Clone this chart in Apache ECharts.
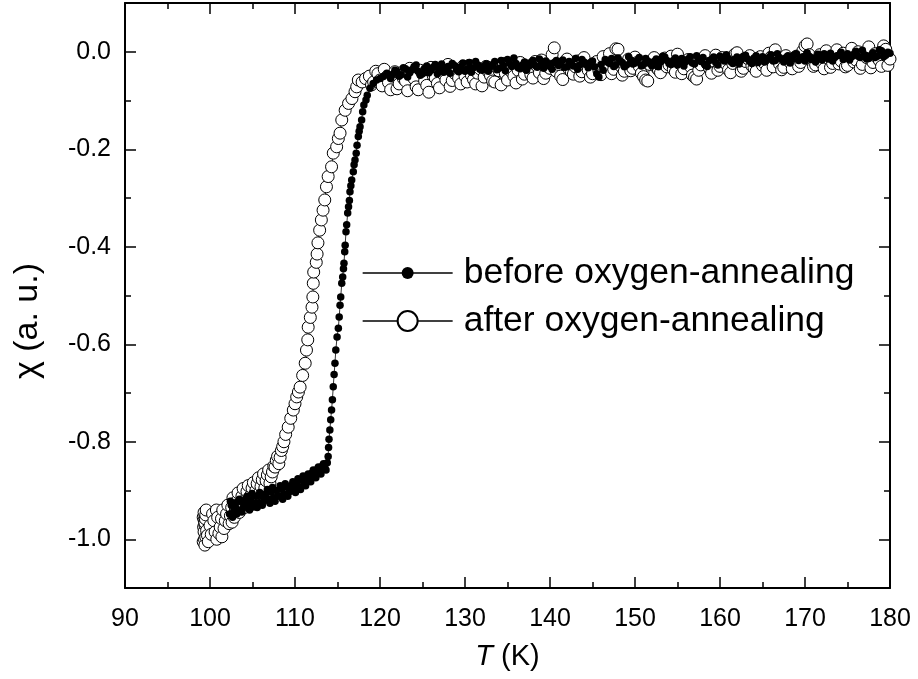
<!DOCTYPE html>
<html>
<head>
<meta charset="utf-8">
<script src="https://cdn.jsdelivr.net/npm/echarts@6/dist/echarts.min.js"></script>
<style>
html,body{margin:0;padding:0;background:#fff;}
#chart{width:918px;height:679px;}
</style>
</head>
<body>
<div id="chart"></div>
<script>
// ---- data: [T (K), chi (a.u.)] ----
const seriesNames = ['before oxygen-annealing', 'after oxygen-annealing'];
const xTicks = [90, 100, 110, 120, 130, 140, 150, 160, 170, 180];
const yMajorTicks = [-1.0, -0.8, -0.6, -0.4, -0.2, 0.0];
const yMinorTicks = [-0.9, -0.7, -0.5, -0.3, -0.1];

const beforeLow = [
  [102.3,-0.948],[102.5,-0.930],[102.8,-0.942],[103.0,-0.925],[103.3,-0.940],[103.6,-0.922],[103.9,-0.936],
  [104.2,-0.917],[104.5,-0.931],[104.8,-0.920],[105.1,-0.934],[105.4,-0.912],[105.7,-0.925],[106.0,-0.910],
  [106.3,-0.922],[106.6,-0.906],[106.9,-0.918],[107.2,-0.903],[107.5,-0.915],[107.8,-0.900],[108.1,-0.911],
  [108.4,-0.897],[108.7,-0.907],[109.0,-0.893],[109.3,-0.903],[109.6,-0.889],[109.9,-0.898],[110.2,-0.884],
  [110.5,-0.893],[110.8,-0.879],[111.1,-0.886],[111.4,-0.872],[111.7,-0.879],[112.0,-0.864],[112.3,-0.870],
  [112.6,-0.857],[112.9,-0.862],[113.2,-0.850],[113.5,-0.853],[113.8,-0.843]
];
const beforeLow2 = [
  [102.4,-0.922],[102.65,-0.955],[102.9,-0.934],[103.15,-0.948],[103.45,-0.918],[103.75,-0.944],[104.05,-0.928],
  [104.35,-0.912],[104.65,-0.940],[104.95,-0.906],[105.25,-0.926],[105.55,-0.935],[105.85,-0.904],[106.15,-0.930],
  [106.45,-0.915],[106.75,-0.898],[107.05,-0.926],[107.35,-0.894],[107.65,-0.922],[107.95,-0.912],[108.25,-0.890],
  [108.55,-0.918],[108.85,-0.886],[109.15,-0.912],[109.45,-0.900],[109.75,-0.882],[110.05,-0.904],[110.35,-0.876],
  [110.65,-0.898],[110.95,-0.870],[111.25,-0.890],[111.55,-0.866],[111.85,-0.882],[112.15,-0.858],[112.45,-0.874],
  [112.75,-0.852],[113.05,-0.866],[113.35,-0.845],[113.65,-0.858]
];
const beforeRise = [
  [113.9,-0.830],[113.95,-0.812],[114.0,-0.795],[114.1,-0.776],[114.2,-0.755],[114.3,-0.735],[114.4,-0.714],
  [114.5,-0.687],[114.6,-0.662],[114.7,-0.639],[114.8,-0.612],[114.95,-0.585],[115.1,-0.567],[115.2,-0.544],
  [115.3,-0.520],[115.38,-0.503],[115.5,-0.475],[115.61,-0.462],[115.7,-0.445],[115.76,-0.434],[115.85,-0.410],
  [115.9,-0.397],[116.0,-0.369],[116.08,-0.355],[116.2,-0.331],[116.3,-0.318],[116.4,-0.305],[116.47,-0.287],
  [116.57,-0.275],[116.67,-0.263],[116.86,-0.246],[116.95,-0.232],[117.06,-0.222],[117.2,-0.208],[117.3,-0.192],
  [117.45,-0.174],[117.55,-0.163],[117.65,-0.154],[117.84,-0.140],[117.96,-0.123],[118.1,-0.109],[118.35,-0.099],
  [118.5,-0.089],[118.82,-0.075],[119.2,-0.065],[119.6,-0.058],[120.0,-0.055],[120.4,-0.051],[120.8,-0.044],[121.2,-0.048]
];
const beforePlateau = [
  [121.5,-0.046],[122.0,-0.040],[122.5,-0.047],[123.0,-0.035],[123.5,-0.043],[124.0,-0.031],[124.5,-0.040],
  [125.0,-0.045],[125.5,-0.029],[126.0,-0.038],[126.5,-0.026],[127.0,-0.036],[127.5,-0.042],[128.0,-0.030],
  [128.5,-0.024],[129.0,-0.037],[129.5,-0.031],[130.0,-0.040],[130.5,-0.022],[131.0,-0.033],[131.5,-0.027],
  [132.0,-0.038],[132.5,-0.025],[133.0,-0.031],[133.5,-0.020],[134.0,-0.034],[134.5,-0.028],[135.0,-0.016],
  [135.5,-0.030],[136.0,-0.024],[136.5,-0.035],[137.0,-0.021],[137.5,-0.029],[138.0,-0.018],[138.5,-0.032],
  [139.0,-0.025],[139.5,-0.019],[140.0,-0.030],[140.5,-0.022],[141.0,-0.028],[141.5,-0.017],[142.0,-0.031],
  [142.5,-0.024],[143.0,-0.014],[143.5,-0.027],[144.0,-0.021],[144.5,-0.033],[145.0,-0.019],[145.5,-0.045],
  [146.0,-0.026],[146.5,-0.016],[147.0,-0.024],[147.5,-0.030],[148.0,-0.013],[148.5,-0.022],[149.0,-0.027],
  [149.5,-0.017],[150.0,-0.023],[150.5,-0.012],[151.0,-0.026],[151.5,-0.019],[152.0,-0.029],[152.5,-0.015],
  [153.0,-0.021],[153.5,-0.011],[154.0,-0.024],[154.5,-0.018],[155.0,-0.027],[155.5,-0.014],[156.0,-0.020],
  [156.5,-0.010],[157.0,-0.025],[157.5,-0.017],[158.0,-0.012],[158.5,-0.030],[159.0,-0.016],[159.5,-0.022],
  [160.0,-0.009],[160.5,-0.019],[161.0,-0.014],[161.5,-0.024],[162.0,-0.011],[162.5,-0.017],[163.0,-0.007],
  [163.5,-0.020],[164.0,-0.013],[164.5,-0.022],[165.0,-0.010],[165.5,-0.016],[166.0,-0.006],[166.5,-0.018],
  [167.0,-0.012],[167.5,-0.021],[168.0,-0.008],[168.5,-0.015],[169.0,-0.004],[169.5,-0.013],[170.0,-0.019],
  [170.5,-0.009],[171.0,-0.014],[171.5,-0.005],[172.0,-0.017],[172.5,-0.010],[173.0,-0.003],[173.5,-0.012],
  [174.0,-0.007],[174.5,-0.016],[175.0,-0.004],[175.5,-0.010],[176.0,0.001],[176.5,-0.012],[177.0,-0.006],
  [177.5,-0.014],[178.0,-0.002],[178.5,-0.009],[179.0,0.002],[179.5,-0.007],[180.0,-0.003]
];
const beforePlateau2 = [
  [121.25,-0.055],[121.75,-0.038],[122.25,-0.050],[122.75,-0.033],[123.25,-0.052],[123.75,-0.037],[124.25,-0.027],
  [124.75,-0.048],[125.25,-0.034],[125.75,-0.043],[126.25,-0.032],[126.75,-0.045],[127.25,-0.025],[127.75,-0.033],
  [128.25,-0.044],[128.75,-0.028],[129.25,-0.041],[129.75,-0.023],[130.25,-0.035],[130.75,-0.042],[131.25,-0.020],
  [131.75,-0.036],[132.25,-0.029],[132.75,-0.040],[133.25,-0.026],[133.75,-0.037],[134.25,-0.018],[134.75,-0.039],
  [135.25,-0.024],[135.75,-0.013],[136.25,-0.033],[136.75,-0.027],[137.25,-0.038],[137.75,-0.022],[138.25,-0.028],
  [138.75,-0.015],[139.25,-0.034],[139.75,-0.024],[140.25,-0.036],[140.75,-0.018],[141.25,-0.025],[141.75,-0.032],
  [142.25,-0.020],[142.75,-0.029],[143.25,-0.036],[143.75,-0.016],[144.25,-0.026],[144.75,-0.022],[145.25,-0.031],
  [145.75,-0.052],[146.25,-0.038],[146.75,-0.021],[147.25,-0.014],[147.75,-0.027],[148.25,-0.019],[148.75,-0.031],
  [149.25,-0.010],[149.75,-0.025],[150.25,-0.018],[150.75,-0.029],[151.25,-0.014],[151.75,-0.024],[152.25,-0.020],
  [152.75,-0.031],[153.25,-0.009],[153.75,-0.018],[154.25,-0.026],[154.75,-0.013],[155.25,-0.021],[155.75,-0.029],
  [156.25,-0.015],[156.75,-0.023],[157.25,-0.008],[157.75,-0.020],[158.25,-0.026],[158.75,-0.018],[159.25,-0.011],
  [159.75,-0.027],[160.25,-0.015],[160.75,-0.006],[161.25,-0.020],[161.75,-0.016],[162.25,-0.025],[162.75,-0.009],
  [163.25,-0.015],[163.75,-0.024],[164.25,-0.008],[164.75,-0.017],[165.25,-0.021],[165.75,-0.012],[166.25,-0.019],
  [166.75,-0.004],[167.25,-0.016],[167.75,-0.013],[168.25,-0.023],[168.75,-0.006],[169.25,-0.018],[169.75,-0.010],
  [170.25,-0.002],[170.75,-0.016],[171.25,-0.021],[171.75,-0.011],[172.25,-0.004],[172.75,-0.015],[173.25,-0.019],
  [173.75,-0.008],[174.25,-0.001],[174.75,-0.011],[175.25,-0.017],[175.75,-0.005],[176.25,-0.009],[176.75,0.003],
  [177.25,-0.015],[177.75,-0.008],[178.25,-0.012],[178.75,0.004],[179.25,-0.010],[179.75,-0.001]
];

const afterLow = [
  [99.2,-0.955],[99.3,-0.985],[99.2,-1.005],[99.4,-0.970],[99.3,-0.945],[99.5,-0.995],[99.3,-0.960],
  [99.4,-1.012],[99.5,-0.950],[99.6,-0.982],[99.4,-0.966],[99.7,-0.992],[100.0,-0.972],[100.3,-0.948],
  [100.6,-0.985],[100.8,-1.000],[100.9,-0.955],[101.2,-0.975],[101.4,-0.995],[101.5,-0.940],[101.8,-0.962],
  [102.1,-0.930],[102.4,-0.952],[102.6,-0.965],[102.7,-0.915],[103.0,-0.938],[103.3,-0.905],[103.6,-0.928],
  [103.9,-0.896],[104.2,-0.918],[104.5,-0.890],[104.8,-0.910],[105.1,-0.884],[105.4,-0.900],[105.7,-0.874],
  [106.0,-0.892],[106.3,-0.866],[106.6,-0.880],[106.9,-0.858],[107.2,-0.872],[107.5,-0.850],[107.8,-0.838],
  [108.1,-0.845],[108.4,-0.818]
];
const afterLow2 = [
  [99.25,-0.975],[99.35,-1.000],[99.45,-0.958],[99.55,-0.940],[99.8,-1.005],[100.15,-0.990],[100.45,-0.962],
  [100.75,-0.940],[101.05,-0.988],[101.35,-0.958],[101.65,-0.978],[101.95,-0.948],[102.25,-0.968],[102.55,-0.935],
  [102.85,-0.955],[103.15,-0.922],[103.45,-0.945],[103.75,-0.912],[104.05,-0.935],[104.35,-0.902],[104.65,-0.925],
  [104.95,-0.895],[105.25,-0.912],[105.55,-0.886],[105.85,-0.905],[106.15,-0.878],[106.45,-0.895],[106.75,-0.868],
  [107.05,-0.885],[107.35,-0.862],[107.65,-0.852],[107.95,-0.830],[108.25,-0.832],[108.55,-0.810]
];
const afterRise = [
  [108.7,-0.800],[108.9,-0.785],[109.2,-0.770],[109.5,-0.752],[109.8,-0.735],[110.0,-0.722],[110.2,-0.708],
  [110.4,-0.698],[110.6,-0.688],[110.9,-0.664],[111.2,-0.639],[111.35,-0.612],[111.5,-0.591],[111.55,-0.565],
  [111.8,-0.545],[112.0,-0.524],[112.1,-0.503],[112.15,-0.475],[112.2,-0.452],[112.5,-0.432],[112.6,-0.415],
  [112.7,-0.392],[112.9,-0.366],[113.1,-0.345],[113.3,-0.325],[113.5,-0.304],[113.7,-0.277],[113.9,-0.256],
  [114.3,-0.236],[114.5,-0.208],[114.9,-0.195],[115.1,-0.178],[115.3,-0.167],[115.5,-0.140],[115.9,-0.120],
  [116.3,-0.106],[116.7,-0.096],[117.06,-0.082],[117.26,-0.072],[117.45,-0.058],[117.9,-0.062],[118.3,-0.055]
];
const afterPlateau = [
  [118.75,-0.050],[119.25,-0.062],[119.75,-0.045],[120.25,-0.070],[120.75,-0.052],[121.25,-0.078],[121.75,-0.041],
  [122.25,-0.066],[122.75,-0.055],[123.25,-0.080],[123.75,-0.047],[124.25,-0.072],[124.75,-0.038],[125.25,-0.060],
  [125.75,-0.083],[126.25,-0.049],[126.75,-0.065],[127.25,-0.036],[127.75,-0.058],[128.25,-0.071],[128.75,-0.044],
  [129.25,-0.054],[129.75,-0.030],[130.25,-0.062],[130.75,-0.048],[131.25,-0.066],[131.75,-0.035],[132.25,-0.052],
  [132.75,-0.041],[133.25,-0.060],[133.75,-0.032],[134.25,-0.068],[134.75,-0.045],[135.25,-0.027],[135.75,-0.050],
  [136.25,-0.038],[136.75,-0.056],[137.25,-0.029],[137.75,-0.047],[138.25,-0.020],[138.75,-0.043],[139.25,-0.055],
  [139.75,-0.031],[140.25,-0.006],[140.75,-0.040],[141.25,-0.050],[141.75,-0.025],[142.25,-0.036],[142.75,-0.046],
  [143.25,-0.019],[143.75,-0.041],[144.25,-0.030],[144.75,-0.052],[145.25,-0.024],[145.75,-0.038],[146.25,-0.010],
  [146.75,-0.033],[147.25,-0.045],[147.75,0.006],[148.25,-0.028],[148.75,-0.040],[149.25,-0.015],[149.75,-0.034],
  [150.25,-0.022],[150.75,-0.044],[151.25,-0.058],[151.75,-0.026],[152.25,-0.012],[152.75,-0.037],[153.25,-0.020],
  [153.75,-0.031],[154.25,-0.009],[154.75,-0.042],[155.25,-0.024],[155.75,-0.035],[156.25,-0.016],[156.75,-0.048],
  [157.25,-0.056],[157.75,-0.027],[158.25,-0.008],[158.75,-0.033],[159.25,-0.019],[159.75,-0.038],[160.25,-0.012],
  [160.75,-0.026],[161.25,-0.043],[161.75,-0.005],[162.25,-0.022],[162.75,-0.034],[163.25,-0.014],[163.75,-0.029],
  [164.25,-0.040],[164.75,-0.010],[165.25,-0.024],[165.75,-0.003],[166.25,-0.031],[166.75,-0.017],[167.25,-0.037],
  [167.75,-0.008],[168.25,-0.022],[168.75,-0.013],[169.25,-0.030],[169.75,0.002],[170.25,0.016],[170.75,-0.018],
  [171.25,-0.027],[171.75,-0.006],[172.25,-0.035],[172.75,-0.014],[173.25,-0.024],[173.75,0.004],[174.25,-0.019],
  [174.75,-0.031],[175.25,-0.009],[175.75,-0.021],[176.25,0.000],[176.75,-0.026],[177.25,-0.012],[177.75,-0.033],
  [178.25,-0.004],[178.75,-0.018],[179.25,0.012],[179.75,-0.028]
];
const afterPlateau2 = [
  [119.0,-0.068],[119.5,-0.040],[120.0,-0.058],[120.5,-0.036],[121.0,-0.063],[121.5,-0.050],[122.0,-0.076],
  [122.5,-0.043],[123.0,-0.060],[123.5,-0.034],[124.0,-0.055],[124.5,-0.078],[125.0,-0.045],[125.5,-0.069],
  [126.0,-0.032],[126.5,-0.054],[127.0,-0.074],[127.5,-0.047],[128.0,-0.026],[128.5,-0.059],[129.0,-0.040],
  [129.5,-0.066],[130.0,-0.050],[130.5,-0.028],[131.0,-0.057],[131.5,-0.044],[132.0,-0.070],[132.5,-0.030],
  [133.0,-0.049],[133.5,-0.062],[134.0,-0.039],[134.5,-0.024],[135.0,-0.058],[135.5,-0.042],[136.0,-0.064],
  [136.5,-0.022],[137.0,-0.046],[137.5,-0.036],[138.0,-0.054],[138.5,-0.030],[139.0,-0.017],[139.5,-0.044],
  [140.0,-0.034],[140.5,0.008],[141.0,-0.026],[141.5,-0.057],[142.0,-0.015],[142.5,-0.041],[143.0,-0.031],
  [143.5,-0.050],[144.0,-0.012],[144.5,-0.038],[145.0,-0.045],[145.5,-0.020],[146.0,-0.047],[146.5,-0.029],
  [147.0,-0.004],[147.5,-0.036],[148.0,0.005],[148.5,-0.048],[149.0,-0.024],[149.5,-0.039],[150.0,-0.011],
  [150.5,-0.030],[151.0,-0.051],[151.5,-0.060],[152.0,-0.020],[152.5,-0.032],[153.0,-0.043],[153.5,-0.013],
  [154.0,-0.027],[154.5,-0.036],[155.0,-0.005],[155.5,-0.045],[156.0,-0.021],[156.5,-0.030],[157.0,-0.052],
  [157.5,-0.038],[158.0,-0.015],[158.5,-0.025],[159.0,-0.044],[159.5,-0.007],[160.0,-0.030],[160.5,-0.018],
  [161.0,-0.037],[161.5,-0.024],[162.0,-0.002],[162.5,-0.040],[163.0,-0.020],[163.5,-0.008],[164.0,-0.033],
  [164.5,-0.018],[165.0,-0.028],[165.5,-0.038],[166.0,-0.011],[166.5,0.004],[167.0,-0.025],[167.5,-0.032],
  [168.0,-0.015],[168.5,-0.035],[169.0,-0.009],[169.5,-0.022],[170.0,0.012],[170.5,-0.006],[171.0,-0.030],
  [171.5,-0.016],[172.0,-0.024],[172.5,0.002],[173.0,-0.032],[173.5,-0.011],[174.0,-0.025],[174.5,-0.003],
  [175.0,-0.028],[175.5,0.007],[176.0,-0.017],[176.5,-0.034],[177.0,-0.007],[177.5,0.010],[178.0,-0.022],
  [178.5,-0.012],[179.0,-0.030],[179.5,0.005],[180.0,-0.015]
];

// ---- chart ----
const FONT = "'Liberation Sans', Arial, sans-serif";
const byT = (a, b) => a[0] - b[0];
const beforeData = beforeLow.concat(beforeLow2, beforeRise, beforePlateau, beforePlateau2).sort(byT);
const afterData = afterLow.concat(afterLow2, afterRise, afterPlateau, afterPlateau2).sort(byT);

const xBase = {
  type: 'value', min: xTicks[0], max: xTicks[xTicks.length - 1], interval: 10,
  splitLine: { show: false },
  axisLine: { show: true, onZero: false, lineStyle: { color: '#000', width: 2 } },
  axisTick: { show: true, inside: true, length: 11, lineStyle: { color: '#000', width: 1.5 } },
  minorTick: { show: true, splitNumber: 2, length: 6, lineStyle: { color: '#000', width: 1.5 } }
};
const yBase = {
  type: 'value', min: -1.1, max: 0.1,
  splitLine: { show: false },
  axisLine: { show: false, onZero: false },
  axisLabel: { show: false }
};

const chart = echarts.init(document.getElementById('chart'), null, { renderer: 'canvas' });
chart.setOption({
  animation: false,
  backgroundColor: '#fff',
  grid: { left: 125, right: 28, top: 3, bottom: 91, containLabel: false },
  xAxis: [
    Object.assign({}, xBase, {
      position: 'bottom',
      name: '{i|T} (K)', nameLocation: 'middle', nameGap: 54,
      nameTextStyle: { fontFamily: FONT, fontSize: 29, color: '#000',
        rich: { i: { fontStyle: 'italic', fontFamily: FONT, fontSize: 29, color: '#000' } } },
      axisLabel: { show: true, margin: 19, fontFamily: FONT, fontSize: 25, color: '#000',
        formatter: v => String(v) }
    }),
    Object.assign({}, xBase, { position: 'top', axisLabel: { show: false } })
  ],
  yAxis: [
    Object.assign({}, yBase, {
      position: 'left',
      axisLine: { show: true, onZero: false, lineStyle: { color: '#000', width: 2 } },
      axisTick: { show: true, inside: true, length: 11, customValues: yMajorTicks, lineStyle: { color: '#000', width: 1.5 } },
      axisLabel: { show: true, margin: 14, customValues: yMajorTicks, fontFamily: FONT, fontSize: 25, color: '#000',
        formatter: v => v.toFixed(1) },
      name: 'χ (a. u.)', nameLocation: 'middle', nameGap: 80, nameRotate: 90,
      nameTextStyle: { fontFamily: FONT, fontSize: 34, color: '#000', padding: [0, 51, 0, 0] }
    }),
    Object.assign({}, yBase, {
      position: 'left',
      axisTick: { show: true, inside: true, length: 6, customValues: yMinorTicks, lineStyle: { color: '#000', width: 1.5 } }
    }),
    Object.assign({}, yBase, {
      position: 'right',
      axisLine: { show: true, onZero: false, lineStyle: { color: '#000', width: 2 } },
      axisTick: { show: true, inside: true, length: 11, customValues: yMajorTicks, lineStyle: { color: '#000', width: 1.5 } }
    }),
    Object.assign({}, yBase, {
      position: 'right',
      axisTick: { show: true, inside: true, length: 6, customValues: yMinorTicks, lineStyle: { color: '#000', width: 1.5 } }
    })
  ],
  legend: [
    { data: [seriesNames[0]], left: 362, top: 255, padding: 0, itemWidth: 90, itemHeight: 15,
      lineStyle: { width: 1.3 },
      textStyle: { fontFamily: FONT, fontSize: 35.5, lineHeight: 30, color: '#000', padding: [0, 0, 0, 6] } },
    { data: [seriesNames[1]], left: 362, top: 303, padding: 0, itemWidth: 90, itemHeight: 25,
      lineStyle: { width: 1.3 },
      textStyle: { fontFamily: FONT, fontSize: 35.5, lineHeight: 30, color: '#000', padding: [0, 0, 0, 6] } }
  ],
  series: [
    {
      name: seriesNames[1], type: 'line', data: afterData, xAxisIndex: 0, yAxisIndex: 0,
      symbol: 'circle', symbolSize: 12, showSymbol: true,
      itemStyle: { color: '#fff', borderColor: '#000', borderWidth: 1 },
      lineStyle: { color: '#000', width: 0.8 },
      emphasis: { disabled: true }, z: 2
    },
    {
      name: seriesNames[0], type: 'line', data: beforeData, xAxisIndex: 0, yAxisIndex: 0,
      symbol: 'circle', symbolSize: 7.5, showSymbol: true,
      itemStyle: { color: '#000', borderColor: '#000', borderWidth: 0 },
      lineStyle: { color: '#000', width: 0.8 },
      emphasis: { disabled: true }, z: 3
    }
  ]
});
</script>
</body>
</html>
